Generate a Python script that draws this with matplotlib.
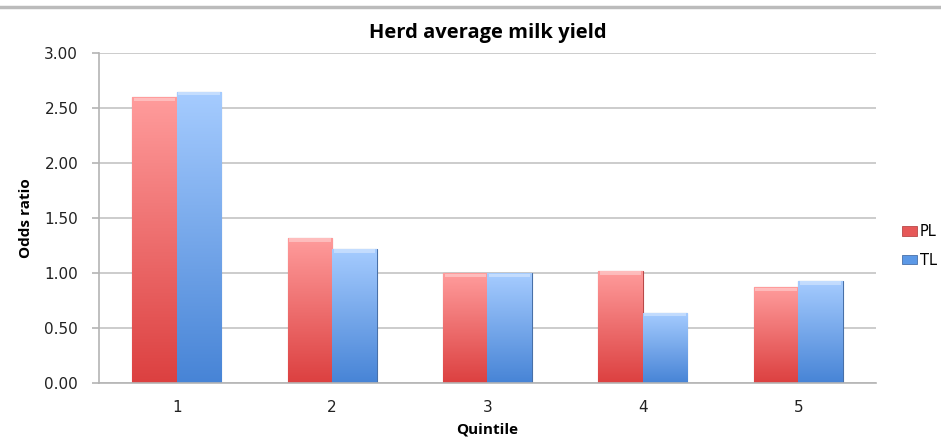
import numpy as np
import matplotlib.pyplot as plt
from matplotlib.colors import LinearSegmentedColormap

# Odds ratios by quintile of herd average milk yield
quintiles = ['1', '2', '3', '4', '5']
pl_values = [2.60, 1.32, 1.00, 1.02, 0.87]
tl_values = [2.65, 1.22, 1.00, 0.64, 0.93]
y_ticks = [0.0, 0.5, 1.0, 1.5, 2.0, 2.5, 3.0]

fig = plt.figure(figsize=(9.41, 4.46), dpi=100)
ax = fig.add_axes([0.1052, 0.1413, 0.8257, 0.7397])

x = np.arange(len(quintiles))
w = 0.286

red_cmap = LinearSegmentedColormap.from_list('red', ['#dc4040', '#ff9c9c'])
blue_cmap = LinearSegmentedColormap.from_list('blue', ['#4784d6', '#a6ccff'])


def gradient_bars(xpos, values, cmap, edge, label):
    bars = ax.bar(xpos, values, w, color=cmap(0.5), edgecolor=edge,
                  linewidth=0.8, label=label, zorder=2)
    grad = np.linspace(0, 1, 256).reshape(-1, 1)
    for b in bars:
        x0, y0 = b.get_x(), b.get_y()
        x1, y1 = x0 + b.get_width(), y0 + b.get_height()
        im = ax.imshow(grad, cmap=cmap, origin='lower', aspect='auto',
                       extent=[x0, x1, y0, y1], zorder=2.5)
        im.set_clip_path(b)
        # light bevel along the top edge
        ax.fill_between([x0 + 0.01, x1 - 0.01], y1 - 0.035, y1 - 0.005,
                        color='white', alpha=0.35, lw=0, zorder=2.6)
    return bars


gradient_bars(x - w / 2, pl_values, red_cmap, '#b84848', 'PL')
gradient_bars(x + w / 2, tl_values, blue_cmap, '#4870a8', 'TL')

ax.set_xlim(-0.5, len(quintiles) - 0.5)
ax.set_ylim(0, 3.0)
ax.set_xticks(x)
ax.set_xticklabels(quintiles)
ax.set_yticks(y_ticks)
ax.set_yticklabels(['%.2f' % v for v in y_ticks])
ax.yaxis.grid(True, color='#c4c4c4', linewidth=1.2, zorder=0)
ax.set_axisbelow(True)

for side in ['top', 'right']:
    ax.spines[side].set_visible(False)
for side in ['left', 'bottom']:
    ax.spines[side].set_color('#b4b4b4')
    ax.spines[side].set_linewidth(1.2)
ax.tick_params(axis='y', length=5, color='#b4b4b4', width=1.2,
               labelsize=11, labelcolor='#222222', pad=10)
ax.tick_params(axis='x', length=0, labelsize=11, labelcolor='#222222', pad=12)

ax.set_title('Herd average milk yield', fontfamily='Open Sans', fontweight='bold',
             fontsize=14.5, pad=11)
ax.set_xlabel('Quintile', fontfamily='Open Sans', fontweight='bold', fontsize=11,
              labelpad=6)
ax.set_ylabel('Odds ratio', fontfamily='Open Sans', fontweight='bold', fontsize=11,
              labelpad=8)

# legend with small square swatches
handles = [plt.Rectangle((0, 0), 1, 1, fc='#e65858', ec='#b84848', lw=0.6),
           plt.Rectangle((0, 0), 1, 1, fc='#5b98e6', ec='#4870a8', lw=0.6)]
ax.legend(handles, ['PL', 'TL'], loc='center left',
          bbox_to_anchor=(1.034, 0.415), frameon=False, fontsize=10.5,
          handlelength=1.0, handleheight=0.6, handletextpad=0.2,
          labelspacing=0.95, borderaxespad=0, borderpad=0)

# gray frame line at the top of the chart
fig.add_artist(plt.Line2D([0, 1], [0.985, 0.985], color='#bbbbbb', lw=2.5))

fig.savefig('out.png', dpi=100)
